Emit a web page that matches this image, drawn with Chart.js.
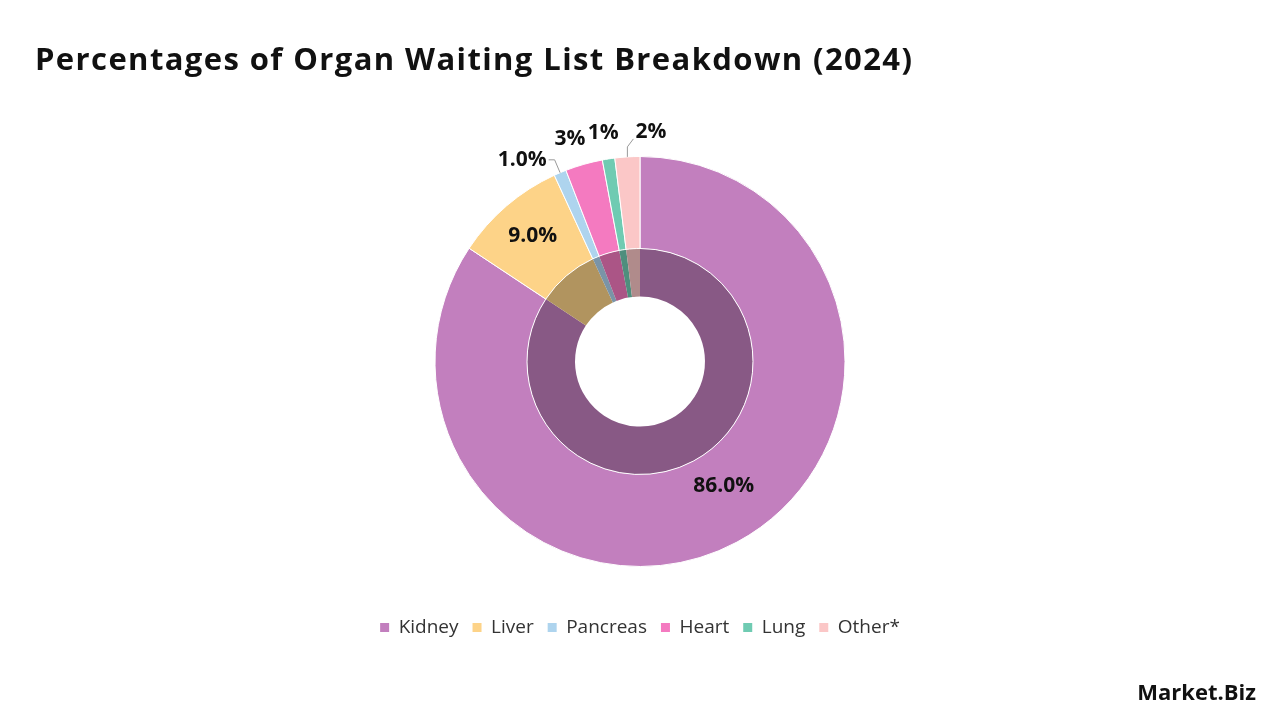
<!DOCTYPE html>
<html><head><meta charset="utf-8">
<script src="https://cdn.jsdelivr.net/npm/chart.js@4.4.1/dist/chart.umd.min.js"></script>
<style>html,body{margin:0;padding:0;background:#fff}#wrap{width:1280px;height:720px;position:relative}</style>
</head><body><div id="wrap"><canvas id="c" width="1280" height="720"></canvas></div>
<script>
const categories = ['Kidney','Liver','Pancreas','Heart','Lung','Other*'];
const values = [86.0, 9.0, 1.0, 3, 1, 2];
const valueLabels = ['86.0%','9.0%','1.0%','3%','1%','2%'];
const colors = ['#c27fbe','#fdd388','#aed4ee','#f47ac0','#6fcbb2','#fbc7c7'];

function darken(hex,f){const n=parseInt(hex.slice(1),16);const r=Math.round((n>>16&255)*f),g=Math.round((n>>8&255)*f),b=Math.round((n&255)*f);return `rgb(${r},${g},${b})`;}
const FONT = '"Open Sans", sans-serif';

const labelPlugin = {
  id:'lbl',
  afterDraw(chart){
    const ctx=chart.ctx;
    const meta=chart.getDatasetMeta(0);
    ctx.save();
    ctx.font='bold 21px '+FONT; ctx.fillStyle='#111'; ctx.textBaseline='middle';
    const offs={3:[-8,-4],4:[-2,-4]};
    meta.data.forEach((arc,i)=>{
      const p=arc.getProps(['x','y','startAngle','endAngle','outerRadius'],true);
      const a=(p.startAngle+p.endAngle)/2;
      const big=values[i]>5;
      if(big){
        const r=i===0?150:165;
        ctx.textAlign='center';
        ctx.fillText(valueLabels[i],p.x+Math.cos(a-(i===0?0.1:0))*r,p.y+Math.sin(a-(i===0?0.1:0))*r);
      } else {
        const ex=p.x+Math.cos(a)*p.outerRadius, ey=p.y+Math.sin(a)*p.outerRadius;
        if(i===2){
          const lx=p.x+Math.cos(a)*(p.outerRadius+14), ly=p.y+Math.sin(a)*(p.outerRadius+14);
          ctx.strokeStyle='#999';ctx.lineWidth=1;ctx.beginPath();ctx.moveTo(ex,ey);ctx.lineTo(lx,ly);ctx.lineTo(lx-6,ly);ctx.stroke();
          ctx.textAlign='right';ctx.fillText(valueLabels[i],lx-8,ly);
        } else if(i===5){
          ctx.strokeStyle='#999';ctx.lineWidth=1;ctx.beginPath();ctx.moveTo(ex,ey);ctx.lineTo(ex,ey-10);ctx.lineTo(ex+6,ey-18);ctx.stroke();
          ctx.textAlign='left';ctx.fillText(valueLabels[i],ex+8,ey-25);
        } else {
          const r=p.outerRadius+22;
          ctx.textAlign='center';
          ctx.fillText(valueLabels[i],p.x+Math.cos(a)*r+offs[i][0],p.y+Math.sin(a)*r+offs[i][1]);
        }
      }
    });
    ctx.font='bold 31px '+FONT; ctx.textAlign='left'; ctx.textBaseline='alphabetic';
    if('letterSpacing' in ctx) ctx.letterSpacing='1.4px';
    ctx.fillText('Percentages of Organ Waiting List Breakdown (2024)',35,70);
    if('letterSpacing' in ctx) ctx.letterSpacing='0px';
    ctx.font='bold 22px '+FONT; ctx.textAlign='right';
    ctx.fillText('Market.Biz',1256,700);
    ctx.restore();
  }
};

new Chart(document.getElementById('c'),{
  type:'doughnut',
  data:{labels:categories,datasets:[
    {data:values,backgroundColor:colors,borderColor:'#fff',borderWidth:1,weight:92},
    {data:values,backgroundColor:colors.map(c=>darken(c,0.7)),borderWidth:0,weight:48}
  ]},
  options:{responsive:false,animation:false,radius:205,cutout:'31.7%',
    layout:{padding:{top:119,bottom:73}},
    plugins:{tooltip:{enabled:false},
      legend:{position:'bottom',labels:{usePointStyle:true,pointStyle:'rect',boxWidth:9,boxHeight:9,padding:14,color:'#333',font:{family:FONT,size:19},
        generateLabels(chart){return categories.map((c,i)=>({text:c,fillStyle:colors[i],strokeStyle:colors[i],lineWidth:0,pointStyle:'rect',index:i,datasetIndex:0,fontColor:'#333'}));}}}}
  },
  plugins:[labelPlugin]
});
</script></body></html>
